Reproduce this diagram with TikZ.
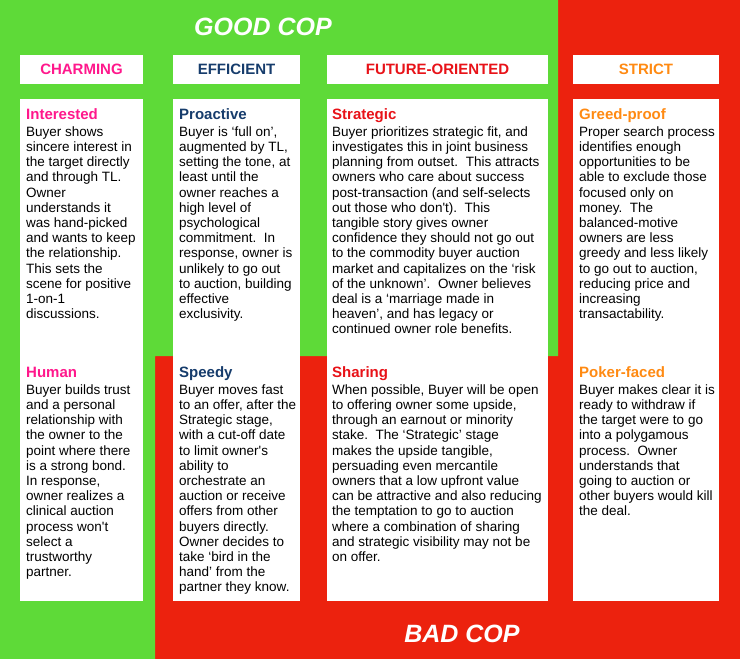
\documentclass[tikz,border=0pt]{standalone}
\usepackage{fontspec}
\setmainfont{Liberation Sans}
\definecolor{bggreen}{RGB}{94,218,56}
\definecolor{bgred}{RGB}{236,34,14}
\definecolor{cpink}{RGB}{255,24,140}
\definecolor{cnavy}{RGB}{22,60,108}
\definecolor{cred}{RGB}{232,18,24}
\definecolor{corange}{RGB}{255,138,18}
\tikzset{
  panel/.style={fill=white, draw=none, inner sep=0pt, anchor=north west, minimum height=502pt},
  headbox/.style={fill=white, draw=none, inner sep=0pt, minimum height=29pt, font=\fontsize{15}{18}\selectfont\bfseries},
  block/.style={anchor=north west, inner sep=0pt, align=left, font=\fontsize{13.5}{15.2}\selectfont},
  coptitle/.style={text=white, inner sep=0pt, anchor=base, font=\fontsize{25}{30}\selectfont\bfseries\itshape},
}
\newcommand{\blkhead}[2]{{\fontsize{15}{15.2}\selectfont\bfseries\color{#1}\rule{0pt}{12pt}#2}\\[1.8pt]}
\begin{document}
\begin{tikzpicture}[x=1pt,y=-1pt]
\useasboundingbox (0,0) rectangle (740,659);
% backgrounds
\fill[bgred] (0,0) rectangle (740,659);
\fill[bggreen] (0,0) -- (558,0) -- (558,356) -- (155,356) -- (155,659) -- (0,659) -- cycle;
% titles
\node[coptitle] (good) at (263,35) {GOOD COP};
\node[coptitle] (bad) at (462,642) {BAD COP};
% header boxes
\node[headbox, minimum width=123pt, text=cpink] (h1) at (81.5,69) {CHARMING};
\node[headbox, minimum width=127pt, text=cnavy] (h2) at (236.5,69) {EFFICIENT};
\node[headbox, minimum width=221pt, text=cred] (h3) at (437.5,69) {FUTURE-ORIENTED};
\node[headbox, minimum width=146pt, text=corange] (h4) at (646,69) {STRICT};
% panels
\node[panel, minimum width=123pt] (p1) at (20,99) {};
\node[panel, minimum width=127pt] (p2) at (173,99) {};
\node[panel, minimum width=221pt] (p3) at (327,99) {};
\node[panel, minimum width=146pt] (p4) at (573,99) {};
% column 1
\node[block] (t1a) at (26,107) {\blkhead{cpink}{Interested}
Buyer shows\\
sincere interest in\\
the target directly\\
and through TL.\\
Owner\\
understands it\\
was hand-picked\\
and wants to keep\\
the relationship.\\
This sets the\\
scene for positive\\
1-on-1\\
discussions.};
\node[block] (t1b) at (26,365) {\blkhead{cpink}{Human}
Buyer builds trust\\
and a personal\\
relationship with\\
the owner to the\\
point where there\\
is a strong bond.\\
In response,\\
owner realizes a\\
clinical auction\\
process won\textquotesingle t\\
select a\\
trustworthy\\
partner.};
% column 2
\node[block] (t2a) at (179,107) {\blkhead{cnavy}{Proactive}
Buyer is ‘full on’,\\
augmented by TL,\\
setting the tone, at\\
least until the\\
owner reaches a\\
high level of\\
psychological\\
commitment.\ \ In\\
response, owner is\\
unlikely to go out\\
to auction, building\\
effective\\
exclusivity.};
\node[block] (t2b) at (179,365) {\blkhead{cnavy}{Speedy}
Buyer moves fast\\
to an offer, after the\\
Strategic stage,\\
with a cut-off date\\
to limit owner\textquotesingle s\\
ability to\\
orchestrate an\\
auction or receive\\
offers from other\\
buyers directly.\\
Owner decides to\\
take ‘bird in the\\
hand’ from the\\
partner they know.};
% column 3
\node[block] (t3a) at (332,107) {\blkhead{cred}{Strategic}
Buyer prioritizes strategic fit, and\\
investigates this in joint business\\
planning from outset.\ \ This attracts\\
owners who care about success\\
post-transaction (and self-selects\\
out those who don\textquotesingle t).\ \ This\\
tangible story gives owner\\
confidence they should not go out\\
to the commodity buyer auction\\
market and capitalizes on the ‘risk\\
of the unknown’.\ \ Owner believes\\
deal is a ‘marriage made in\\
heaven’, and has legacy or\\
continued owner role benefits.};
\node[block] (t3b) at (332,365) {\blkhead{cred}{Sharing}
When possible, Buyer will be open\\
to offering owner some upside,\\
through an earnout or minority\\
stake.\ \ The ‘Strategic’ stage\\
makes the upside tangible,\\
persuading even mercantile\\
owners that a low upfront value\\
can be attractive and also reducing\\
the temptation to go to auction\\
where a combination of sharing\\
and strategic visibility may not be\\
on offer.};
% column 4
\node[block] (t4a) at (579,107) {\blkhead{corange}{Greed-proof}
Proper search process\\
identifies enough\\
opportunities to be\\
able to exclude those\\
focused only on\\
money.\ \ The\\
balanced-motive\\
owners are less\\
greedy and less likely\\
to go out to auction,\\
reducing price and\\
increasing\\
transactability.};
\node[block] (t4b) at (579,365) {\blkhead{corange}{Poker-faced}
Buyer makes clear it is\\
ready to withdraw if\\
the target were to go\\
into a polygamous\\
process.\ \ Owner\\
understands that\\
going to auction or\\
other buyers would kill\\
the deal.};
\end{tikzpicture}
\end{document}
